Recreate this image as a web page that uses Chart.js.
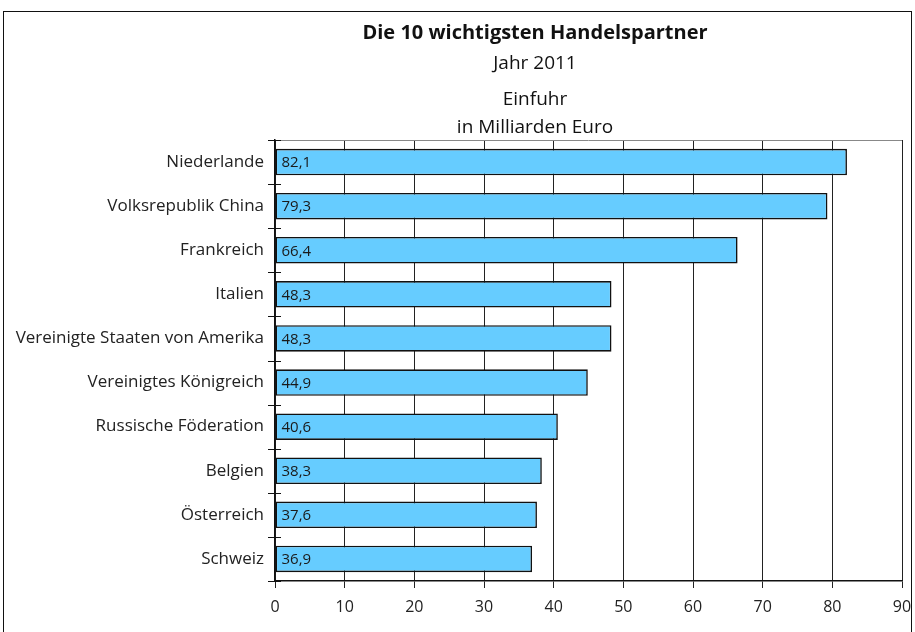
<!DOCTYPE html>
<html>
<head>
<meta charset="utf-8">
<script src="https://cdn.jsdelivr.net/npm/chart.js@4/dist/chart.umd.min.js"></script>
<style>
  body { margin: 0; background: #fff; overflow: hidden; }
  #frame { position: absolute; left: 3px; top: 11px; width: 909px; height: 700px; border: 1px solid #111; box-sizing: border-box; }
  #wrap { position: absolute; left: 0; top: 0; width: 915px; height: 632px; }
</style>
</head>
<body>
<div id="frame"></div>
<div id="wrap"><canvas id="chart"></canvas></div>
<script>
// data
const partners = ["Niederlande", "Volksrepublik China", "Frankreich", "Italien",
    "Vereinigte Staaten von Amerika", "Vereinigtes Königreich", "Russische Föderation",
    "Belgien", "Österreich", "Schweiz"];
const einfuhr = [82.1, 79.3, 66.4, 48.3, 48.3, 44.9, 40.6, 38.3, 37.6, 36.9];
const xTicks = [0, 10, 20, 30, 40, 50, 60, 70, 80, 90];
const titleLines = ["Die 10 wichtigsten Handelspartner", "Jahr 2011", "Einfuhr", "in Milliarden Euro"];

const FONT = "'Open Sans', 'Noto Sans', sans-serif";

// titles (centered a bit left of the plot, like the original)
const titlePlugin = {
    id: "titles",
    afterDraw(chart) {
        const ctx = chart.ctx;
        ctx.save();
        ctx.fillStyle = "#111";
        ctx.textAlign = "center";
        ctx.textBaseline = "middle";
        const ys = [33, 64, 100, 128];
        titleLines.forEach((t, i) => {
            ctx.font = (i === 0 ? "bold 20px " : "19px ") + FONT;
            ctx.fillText(t, 535, ys[i]);
        });
        ctx.restore();
    }
};

// value labels inside the bars, top frame line, category ticks across the axis
const valuePlugin = {
    id: "values",
    afterDatasetsDraw(chart) {
        const ctx = chart.ctx;
        const area = chart.chartArea;
        const yScale = chart.scales.y;
        ctx.save();
        ctx.strokeStyle = "#888";
        ctx.lineWidth = 1;
        ctx.beginPath();
        ctx.moveTo(area.left, area.top + 0.5);
        ctx.lineTo(area.right, area.top + 0.5);
        ctx.stroke();

        ctx.strokeStyle = "#111";
        ctx.beginPath();
        for (let i = 0; i <= partners.length; i++) {
            const y = Math.round(yScale.getPixelForValue(i - 0.5)) + 0.5;
            ctx.moveTo(area.left - 7, y);
            ctx.lineTo(area.left + 6, y);
        }
        ctx.stroke();

        ctx.font = "15px " + FONT;
        ctx.fillStyle = "#1a1a1a";
        ctx.textBaseline = "middle";
        ctx.textAlign = "left";
        chart.getDatasetMeta(0).data.forEach((bar, i) => {
            ctx.fillText(einfuhr[i].toFixed(1).replace(".", ","), bar.base + 6, bar.y + 1);
        });
        ctx.restore();
    }
};

new Chart(document.getElementById("chart"), {
    type: "bar",
    data: {
        labels: partners,
        datasets: [{
            data: einfuhr,
            backgroundColor: "#66ccff",
            borderColor: "#111",
            borderWidth: 1.6,
            borderSkipped: false,
            barPercentage: 0.6,
            categoryPercentage: 1
        }]
    },
    options: {
        indexAxis: "y",
        responsive: true,
        maintainAspectRatio: false,
        animation: false,
        layout: { padding: { top: 140, right: 13, left: 0, bottom: 0 } },
        plugins: {
            legend: { display: false },
            tooltip: { enabled: false },
            title: { display: false }
        },
        scales: {
            x: {
                min: 0,
                max: 90,
                afterBuildTicks(scale) {
                    scale.ticks = xTicks.map(v => ({ value: v }));
                },
                afterFit(scale) {
                    scale.height = 51;
                    scale.paddingLeft = 0;
                    scale.paddingRight = 0;
                },
                grid: {
                    color: "#222",
                    lineWidth: 1,
                    tickLength: 7,
                    drawTicks: true
                },
                border: { color: "#111", width: 1.5 },
                ticks: {
                    color: "#222",
                    font: { family: FONT, size: 16 },
                    padding: 10,
                    maxRotation: 0
                }
            },
            y: {
                afterFit(scale) {
                    scale.width = 275;
                    scale.paddingTop = 0;
                    scale.paddingBottom = 0;
                },
                grid: {
                    offset: true,
                    drawOnChartArea: false,
                    drawTicks: false,
                    tickLength: 7
                },
                border: { color: "#111", width: 1.5 },
                ticks: {
                    color: "#222",
                    font: { family: FONT, size: 17 },
                    padding: 11
                }
            }
        }
    },
    plugins: [titlePlugin, valuePlugin]
});
</script>
</body>
</html>
